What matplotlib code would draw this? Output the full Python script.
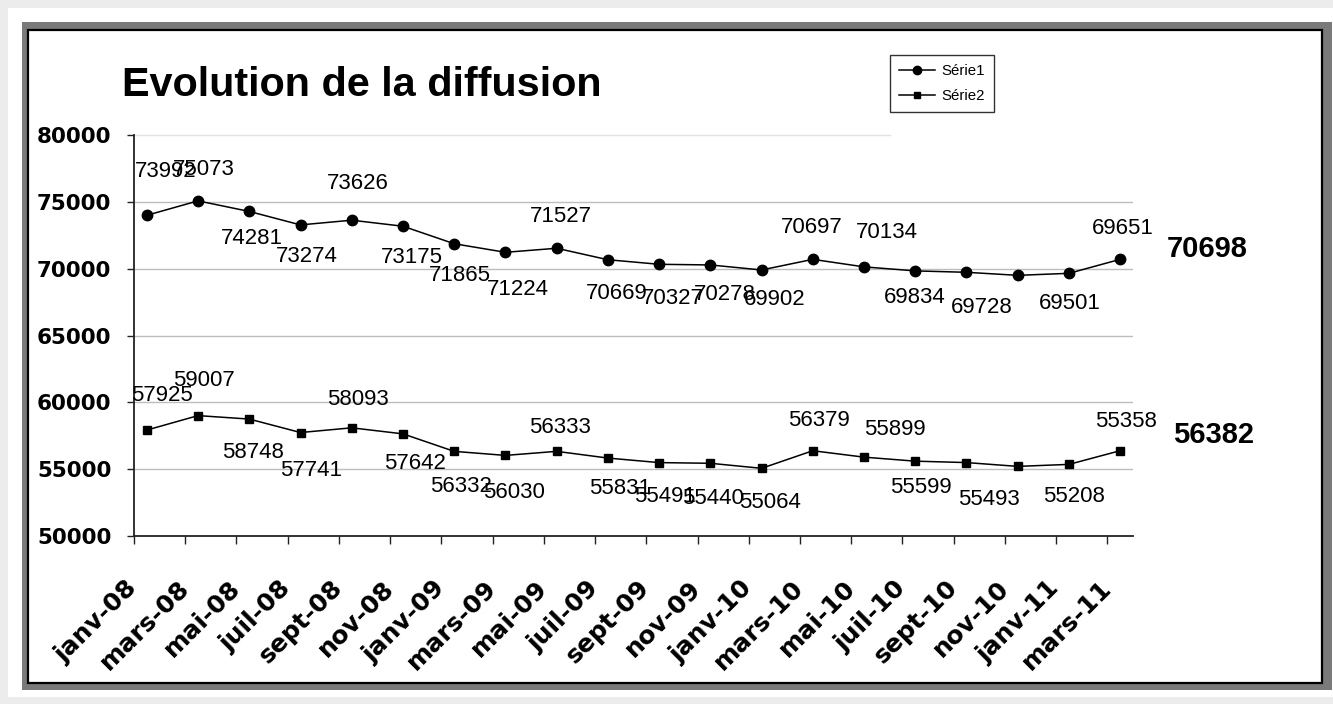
import numpy as np
import matplotlib
matplotlib.use("Agg")
import matplotlib.pyplot as plt
from matplotlib.patches import Rectangle

plt.rcParams['font.family'] = ['Liberation Sans', 'DejaVu Sans']

# ---- data ----
months = ["janv-08", "mars-08", "mai-08", "juil-08", "sept-08", "nov-08",
          "janv-09", "mars-09", "mai-09", "juil-09", "sept-09", "nov-09",
          "janv-10", "mars-10", "mai-10", "juil-10", "sept-10", "nov-10",
          "janv-11", "mars-11"]
serie1 = [73992, 75073, 74281, 73274, 73626, 73175, 71865, 71224, 71527, 70669,
          70327, 70278, 69902, 70697, 70134, 69834, 69728, 69501, 69651, 70698]
serie2 = [57925, 59007, 58748, 57741, 58093, 57642, 56332, 56030, 56333, 55831,
          55491, 55440, 55064, 56379, 55899, 55599, 55493, 55208, 55358, 56382]
yticks = [50000, 55000, 60000, 65000, 70000, 75000, 80000]

# label offsets in pixels (dx right, dy down) -- styling only
off1 = [(19, -44), (6, -31), (3, 27), (6, 32), (6, -37), (9, 31), (6, 32), (12, 37),
        (4, -32), (9, 34), (14, 34), (14, 30), (13, 30), (-1, -32), (23, -34), (-1, 27),
        (15, 35), (52, 28), (54, -45), (87, -10)]
off2 = [(15, -35), (6, -35), (4, 33), (11, 38), (6, -28), (12, 30), (7, 35), (9, 37),
        (3, -24), (12, 30), (6, 34), (3, 35), (8, 34), (6, -30), (31, -28), (6, 26),
        (22, 37), (56, 30), (57, -43), (93, -16)]

W, H = 1333, 704
def fx(px): return px / W
def fy(py): return 1 - py / H

fig = plt.figure(figsize=(W / 100, H / 100), dpi=100)
fig.patch.set_facecolor('white')

# outer light frame, shadow, chart box
fig.add_artist(Rectangle((0, 0), 1, 1, transform=fig.transFigure,
                         facecolor='#ececec', edgecolor='none', zorder=-20))
fig.add_artist(Rectangle((fx(8), fy(697)), fx(1333) - fx(8), fy(8) - fy(697),
                         transform=fig.transFigure, facecolor='white',
                         edgecolor='none', zorder=-19))
fig.add_artist(Rectangle((fx(22), fy(690)), fx(1332) - fx(22), fy(22) - fy(690),
                         transform=fig.transFigure, facecolor='#7a7a7a',
                         edgecolor='none', zorder=-18))
fig.add_artist(Rectangle((fx(28), fy(683)), fx(1322) - fx(28), fy(30) - fy(683),
                         transform=fig.transFigure, facecolor='white',
                         edgecolor='black', linewidth=1.6, zorder=-17))

ax = fig.add_axes([fx(134), fy(536), (1133 - 134) / W, (536 - 135) / H])
ax.patch.set_alpha(0)
x = np.arange(len(months)) * 2 + 0.5
ax.set_xlim(0, 39)
ax.set_ylim(50000, 80000)

for v in yticks[1:-1]:
    ax.axhline(v, color='#bdbdbd', lw=1.0, zorder=0.5)
ax.axhline(80000, xmin=0, xmax=0.757, color='#e2e2e2', lw=1.0, zorder=0.5, clip_on=False)

ax.plot(x, serie1, color='black', lw=1.1, marker='o', ms=7.5, label='Série1', zorder=3)
ax.plot(x, serie2, color='black', lw=1.1, marker='s', ms=5.6, label='Série2', zorder=3)

for series, offs in ((serie1, off1), (serie2, off2)):
    n = len(series)
    for i, (xi, v) in enumerate(zip(x, series)):
        dx, dy = offs[i]
        last = (i == n - 1)
        ax.annotate(str(v), (xi, v), xytext=(dx, -dy), textcoords='offset pixels',
                    ha='center', va='center',
                    fontsize=21 if last else 16,
                    fontweight='bold' if last else 'normal',
                    color='black', annotation_clip=False, zorder=4)

for s in ('top', 'right'):
    ax.spines[s].set_visible(False)
for s in ('left', 'bottom'):
    ax.spines[s].set_color('#222222')
    ax.spines[s].set_linewidth(1.3)

ax.set_yticks(yticks)
ax.set_yticklabels([str(v) for v in yticks], fontsize=15.5, fontweight='bold',
                   family='DejaVu Sans')
ax.tick_params(axis='y', length=5.2, width=1, color='#222222', pad=11)

ax.set_xticks(np.arange(len(months)) * 2)
ax.set_xticklabels(months, rotation=45, ha='right', va='center',
                   rotation_mode='anchor', fontsize=18, fontweight='bold',
                   family='DejaVu Sans')
ax.tick_params(axis='x', length=5.8, width=1, color='#222222', pad=29)

fig.text(fx(122), fy(96), 'Evolution de la diffusion', fontsize=29.8,
         fontweight='bold', ha='left', va='baseline')

leg = ax.legend(loc='upper left', bbox_to_anchor=(fx(890), fy(55)),
                bbox_transform=fig.transFigure, frameon=True, fancybox=False,
                edgecolor='black', borderaxespad=0, fontsize=10.8,
                handlelength=2.4, markerscale=0.8, labelspacing=0.75,
                borderpad=0.6, handletextpad=0.4)
leg.get_frame().set_linewidth(1.0)

fig.savefig('out.png', dpi=100)
